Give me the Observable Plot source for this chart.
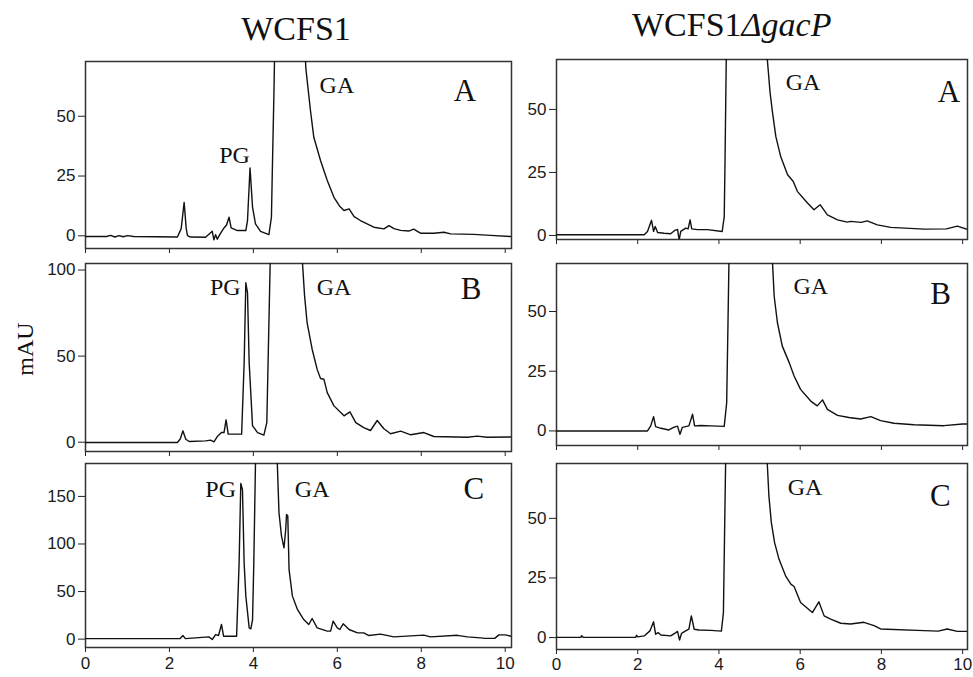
<!DOCTYPE html>
<html>
<head>
<meta charset="utf-8">
<script src="https://cdn.jsdelivr.net/npm/d3@7"></script>
<script src="https://cdn.jsdelivr.net/npm/@observablehq/plot@0.6"></script>
<style>
  html, body { margin: 0; padding: 0; background: #fff; }
  #chart { position: relative; width: 973px; height: 677px; overflow: hidden; background: #fff; }
  #chart > div { position: absolute; }
  #overlay { position: absolute; left: 0; top: 0; pointer-events: none; }
</style>
</head>
<body>
<div id="chart"></div>
<script>
// ---------- data (retention time in min, absorbance in mAU) ----------
const columnTitles = ["WCFS1", "WCFS1", "\u0394gacP"];
const yAxisTitle = "mAU";
const xTicks = [0, 2, 4, 6, 8, 10];

const wcfs1_A = [[0,-0.3],[0.5,-0.3],[0.6,0.2],[0.7,-0.5],[0.8,0.1],[0.9,-0.4],[1.0,0.1],[1.15,-0.3],[2.19,-0.5],[2.28,3],[2.35,14.0],[2.40,3],[2.43,0.1],[2.5,-0.5],[2.86,-0.6],[3.02,1.9],[3.06,-1.7],[3.10,0.5],[3.14,-1.4],[3.22,1.1],[3.30,3.3],[3.36,4.5],[3.42,7.8],[3.47,3.3],[3.62,2.2],[3.82,2.2],[3.86,6.4],[3.92,28.4],[3.98,12.0],[4.05,5.0],[4.17,1.9],[4.37,0.5],[4.43,7.8],[4.45,26],[4.49,60],[4.52,90],[4.6,300],[4.9,450],[5.1,200],[5.2,90],[5.25,70],[5.36,52.4],[5.44,41.2],[5.60,31.5],[5.76,23.1],[5.92,16.1],[6.05,12.5],[6.16,10.6],[6.28,11.3],[6.40,8.0],[6.55,6.4],[6.87,3.6],[7.11,2.9],[7.23,4.3],[7.35,3.0],[7.51,2.3],[7.70,2.0],[7.82,2.8],[7.98,1.1],[8.3,1.1],[8.54,1.5],[8.7,0.8],[9.25,0.6],[9.65,0.2],[10.15,-0.3]];
const wcfs1_B = [[0,-0.2],[2.19,-0.2],[2.26,2],[2.32,6.6],[2.39,1.7],[2.47,0.4],[2.86,0.8],[2.98,1.2],[3.06,0.2],[3.14,3.3],[3.24,5.6],[3.30,5.6],[3.35,13],[3.40,4.7],[3.72,4.7],[3.78,46],[3.82,92.6],[3.86,86.8],[3.90,46],[3.98,9.5],[4.10,5.6],[4.25,4.1],[4.32,11.4],[4.35,46],[4.40,104],[4.45,300],[4.8,500],[5.1,200],[5.17,104],[5.22,85],[5.28,69.4],[5.40,54],[5.52,42.3],[5.60,37],[5.68,36.6],[5.76,28.8],[5.92,21.1],[6.16,15.3],[6.30,17.6],[6.44,11.4],[6.63,8.5],[6.79,6.8],[6.95,12.6],[7.11,7.8],[7.27,4.9],[7.51,6.4],[7.75,4.3],[8.06,5.6],[8.30,3.3],[9.10,2.9],[9.33,3.5],[9.57,2.9],[10.15,3]];
const wcfs1_C = [[0,0.5],[2.25,0.5],[2.32,3.8],[2.38,0.5],[2.94,2.4],[3.02,-0.4],[3.10,4.8],[3.17,3.8],[3.24,15.4],[3.29,3.1],[3.60,3.1],[3.66,80],[3.70,163.6],[3.74,157],[3.78,80],[3.82,45.2],[3.90,11.9],[3.94,10.8],[3.98,20.6],[4.01,80],[4.05,185],[4.1,400],[4.3,800],[4.5,400],[4.57,185],[4.61,132.8],[4.67,108.3],[4.73,96],[4.77,115],[4.79,131],[4.82,129.5],[4.85,73],[4.93,45.2],[5.05,31.2],[5.20,20.6],[5.32,15.4],[5.40,21.7],[5.52,11.9],[5.76,8.4],[5.84,8.4],[5.90,18.9],[6.00,11.9],[6.06,10.1],[6.14,16.1],[6.28,10.1],[6.48,6.6],[6.63,6.6],[6.75,3.8],[7.03,5.3],[7.35,2.4],[8.06,4.2],[8.22,2.4],[8.86,4],[9.1,2.4],[9.49,1],[9.75,0.8],[9.85,4.5],[10.0,4.5],[10.15,3]];

const gacP_A = [[0,0.3],[2.16,0.3],[2.24,1.6],[2.34,6.0],[2.39,1.6],[2.43,3.6],[2.49,1.2],[2.65,0.9],[2.81,0.7],[2.91,2.0],[2.98,2.4],[3.02,-1.7],[3.06,1.6],[3.18,2.9],[3.24,2.6],[3.29,6.2],[3.33,2.6],[3.47,2.3],[3.72,2.3],[4.08,1.6],[4.13,7.5],[4.15,30],[4.18,70],[4.22,300],[4.7,500],[5.1,150],[5.19,70],[5.26,56.5],[5.32,48.6],[5.40,39.3],[5.52,31.3],[5.69,24.1],[5.83,21.4],[5.93,17.5],[6.18,12.9],[6.34,10.2],[6.49,12.2],[6.67,8.2],[6.92,6.2],[7.16,5.3],[7.24,5.6],[7.50,5.2],[7.65,5.8],[7.90,4.2],[8.23,3.2],[9.05,2.5],[9.6,2.6],[9.87,3.7],[10.12,2.4]];
const gacP_B = [[0,0],[2.24,0],[2.32,2.1],[2.39,6.0],[2.44,1.8],[2.57,1.1],[2.77,0.4],[2.88,1.5],[2.98,2.0],[3.04,-1.4],[3.10,1.5],[3.26,2.1],[3.35,7.0],[3.40,2.1],[3.55,2.3],[3.80,2.1],[4.13,1.9],[4.19,11.8],[4.22,42.5],[4.25,75],[4.3,300],[4.8,500],[5.25,150],[5.32,70],[5.36,56.4],[5.44,45.3],[5.56,35.5],[5.73,28.6],[5.85,23],[6.01,17.4],[6.26,12.5],[6.42,10.5],[6.55,13],[6.67,9.0],[6.92,6.5],[7.20,5.6],[7.49,5.0],[7.74,6.0],[7.98,4.3],[8.31,3.2],[8.80,2.6],[9.54,2.2],[10.0,2.9],[10.12,2.9]];
const gacP_C = [[0,0.1],[0.6,0.1],[0.62,0.8],[0.66,0.1],[1.95,0.1],[1.97,1.0],[2.0,0.3],[2.16,0.7],[2.30,2.8],[2.39,6.6],[2.44,1.4],[2.50,2.1],[2.57,1.1],[2.81,0.7],[2.94,2.1],[2.98,2.6],[3.03,-1.0],[3.08,1.8],[3.18,2.8],[3.26,3.5],[3.32,9.1],[3.39,3.5],[3.51,3.2],[3.80,3.0],[4.06,2.7],[4.11,10.5],[4.14,45.4],[4.17,80],[4.22,300],[4.7,500],[5.12,150],[5.19,73],[5.23,59.4],[5.29,48.2],[5.37,39.8],[5.48,32.8],[5.64,25.9],[5.77,22.4],[5.85,21.4],[6.01,14.7],[6.30,10.5],[6.46,15.0],[6.59,9.1],[6.75,7.7],[7.0,6.0],[7.24,5.7],[7.57,6.4],[7.82,5.0],[7.98,3.6],[9.05,2.9],[9.4,2.7],[9.62,3.6],[9.87,2.6],[10.12,2.6]];

// peak annotations: [label, time, mAU]
const notes_wcfs1_A = [["PG",3.55,33.7],["GA",5.99,63.1]];
const notes_wcfs1_B = [["PG",3.33,90.1],["GA",5.92,90.1]];
const notes_wcfs1_C = [["PG",3.22,157.3],["GA",5.40,157.3]];
const notes_gacP_A = [["GA",6.07,60.6]];
const notes_gacP_B = [["GA",6.26,60.6]];
const notes_gacP_C = [["GA",6.12,62.9]];
// panel letters: [letter, time, mAU]
const letters_wcfs1 = [["A",9.04,60.5],["B",9.19,88.7],["C",9.25,157.2]];
const letters_gacP = [["A",9.66,56.9],["B",9.46,57.1],["C",9.45,59.3]];

const yTicks_wcfs1 = [[0,25,50],[0,50,100],[0,50,100,150]];
const yTicks_gacP = [[0,25,50],[0,25,50],[0,25,50]];

// ---------- layout ----------
const cols = [
  {left: 0, width: 520, ml: 85, mr: 9, xMax: 10.15, labelGap: 21.5,
   series: [wcfs1_A, wcfs1_B, wcfs1_C], notes: [notes_wcfs1_A, notes_wcfs1_B, notes_wcfs1_C],
   letters: letters_wcfs1, yTicks: yTicks_wcfs1,
   frames: [[61,248],[263,451],[463,647]],
   yDomains: [[-5.3,72.9],[-5.4,103.8],[-8.8,184.6]]},
  {left: 520, width: 453, ml: 36, mr: 6, xMax: 10.12, labelGap: 20,
   series: [gacP_A, gacP_B, gacP_C], notes: [notes_gacP_A, notes_gacP_B, notes_gacP_C],
   letters: letters_gacP, yTicks: yTicks_gacP,
   frames: [[59,239],[263,445],[463,649]],
   yDomains: [[-1.6,69.8],[-6.1,70.1],[-5.0,73.0]]}
];

const sans = "'Liberation Sans', Arial, sans-serif";
const serif = "'Liberation Serif', 'Times New Roman', serif";
const chart = document.getElementById("chart");
const mt = 10;
cols.forEach(col => {
  col.frames.forEach(([fTop, fBottom], r) => {
    const last = r === 2;
    const mb = last ? 677 - fBottom : 12;
    const h = mt + (fBottom - fTop) + mb;
    const marks = [
      Plot.frame({stroke: "#333", strokeWidth: 1.5}),
      Plot.line(col.series[r], {x: d => d[0], y: d => d[1], stroke: "#111", strokeWidth: 1.4, clip: true}),
      Plot.text(col.yTicks[r], {y: d => d, text: d => String(d), frameAnchor: "left", dx: -10, textAnchor: "end",
        fontFamily: sans, fontSize: 17, fill: "#1a1a1a"}),
      Plot.text(col.notes[r], {x: d => d[1], y: d => d[2], text: d => d[0], fontFamily: serif, fontSize: 24, fill: "#111"}),
      Plot.text([col.letters[r]], {x: d => d[1], y: d => d[2], text: d => d[0], fontFamily: serif, fontSize: 31, fill: "#111"})
    ];
    if (last) {
      marks.push(Plot.text(xTicks, {x: d => d, text: d => String(d), frameAnchor: "bottom", dy: col.labelGap,
        fontFamily: sans, fontSize: 17, fill: "#1a1a1a"}));
    }
    const svg = Plot.plot({
      width: col.width, height: h,
      marginLeft: col.ml, marginRight: col.mr, marginTop: mt, marginBottom: mb,
      style: {fontFamily: sans, fontSize: "16px", color: "#222", background: "none", overflow: "visible"},
      x: {domain: [0, col.xMax], ticks: xTicks, tickSize: 5, tickFormat: () => "", label: null},
      y: {domain: col.yDomains[r], ticks: col.yTicks[r], tickSize: 7, tickFormat: () => "", label: null},
      marks
    });
    const wrap = document.createElement("div");
    wrap.style.left = col.left + "px";
    wrap.style.top = (fTop - mt) + "px";
    wrap.appendChild(svg);
    chart.appendChild(wrap);
  });
});

// titles and y-axis label
const ov = d3.select(chart).append("svg").attr("id", "overlay").attr("width", 973).attr("height", 677);
ov.append("text").attr("x", 296).attr("y", 40).attr("text-anchor", "middle")
  .attr("font-family", serif).attr("font-size", 34).attr("fill", "#111").text(columnTitles[0]);
const t2 = ov.append("text").attr("x", 632).attr("y", 35.5).attr("text-anchor", "start")
  .attr("font-family", serif).attr("font-size", 34).attr("fill", "#111");
t2.append("tspan").text(columnTitles[1]);
t2.append("tspan").attr("font-style", "italic").text(columnTitles[2]);
ov.append("text").attr("transform", "translate(33,349) rotate(-90)").attr("text-anchor", "middle")
  .attr("font-family", serif).attr("font-size", 24).attr("fill", "#111").text(yAxisTitle);
</script>
</body>
</html>
